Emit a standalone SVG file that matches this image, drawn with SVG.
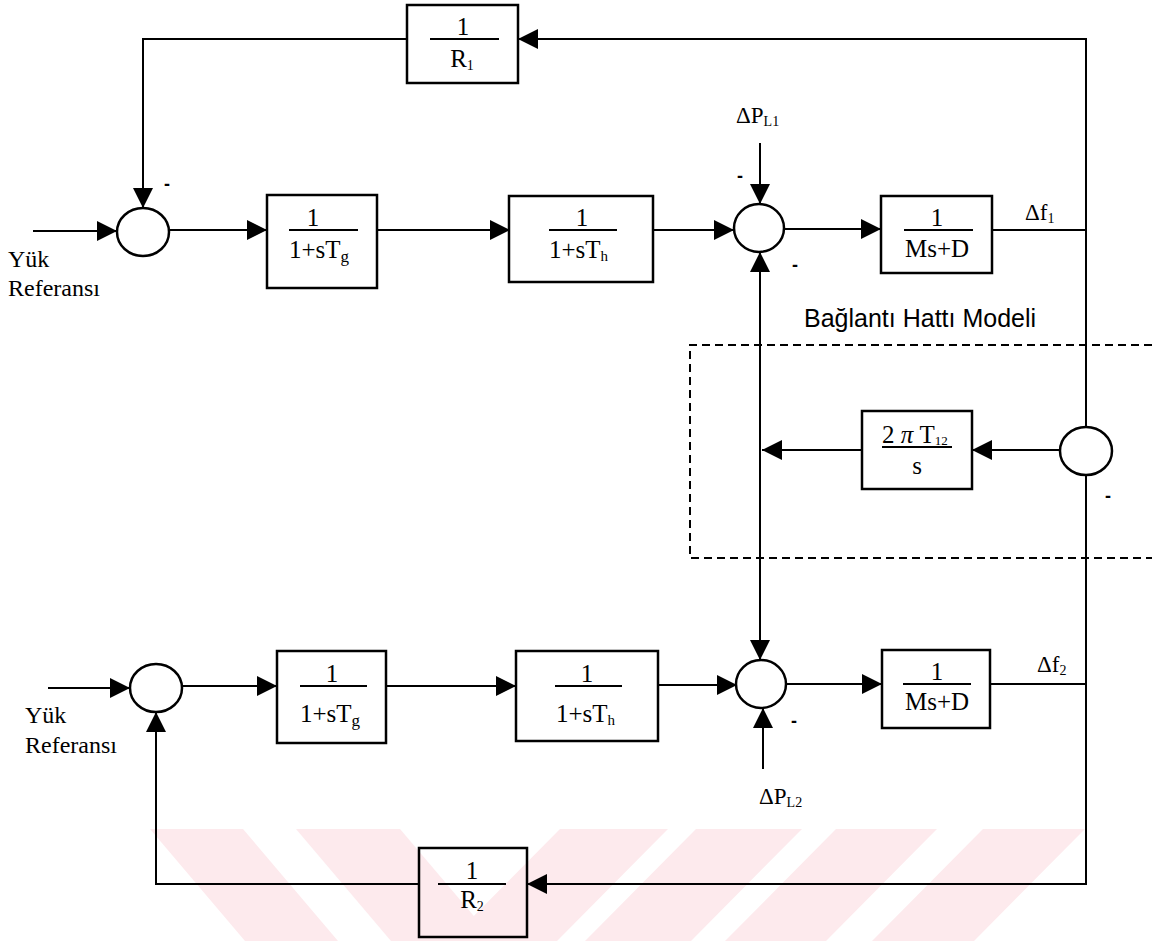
<svg xmlns="http://www.w3.org/2000/svg" width="1152" height="941" viewBox="0 0 1152 941">
<defs>
<marker id="ah" viewBox="0 0 20 20" refX="20" refY="10" markerWidth="20" markerHeight="20" markerUnits="userSpaceOnUse" orient="auto"><path d="M0,0 L20,10 L0,20 z" fill="#000"/></marker>
<style>
.ln{fill:none;stroke:#000;stroke-width:2}
.arr{fill:none;stroke:#000;stroke-width:2;marker-end:url(#ah)}
.box{fill:none;stroke:#000;stroke-width:2.5}
.sum{fill:#fff;stroke:#000;stroke-width:2.5}
.fr{stroke:#000;stroke-width:2}
.t{font-family:"Liberation Serif","Times New Roman",serif;font-size:25px;fill:#000}
.s{font-family:"Liberation Serif","Times New Roman",serif;font-size:23px;fill:#000}
.c{text-anchor:middle}
.lab{font-family:"Liberation Serif","Times New Roman",serif;font-size:24px;fill:#000}
.sgn{font-family:"Liberation Sans",Arial,sans-serif;font-size:18px;font-weight:bold;fill:#000;text-anchor:middle}
.wm{fill:#fdeaed}
</style>
</defs>
<rect width="1152" height="941" fill="#fff"/>
<g id="watermark">
<polygon class="wm" points="150,829 243,829 338,941 245,941"/>
<polygon class="wm" points="296,829 400,829 495,941 391,941"/>
<polygon class="wm" points="560,829 668,829 557,941 449,941"/>
<polygon class="wm" points="696,829 802,829 691,941 585,941"/>
<polygon class="wm" points="836,829 937,829 826,941 725,941"/>
<polygon class="wm" points="983,829 1085,829 974,941 872,941"/>
</g>
<g id="connectors">
<line class="arr" x1="1086" y1="39" x2="518" y2="39"/>
<polyline class="ln" points="407,39 143,39 143,190"/>
<line class="arr" x1="143" y1="180" x2="143" y2="208"/>
<line class="arr" x1="33" y1="231" x2="117" y2="231"/>
<line class="arr" x1="169" y1="230" x2="267" y2="230"/>
<line class="arr" x1="377" y1="230" x2="510" y2="230"/>
<line class="arr" x1="653" y1="230" x2="734" y2="230"/>
<line class="arr" x1="760" y1="143" x2="760" y2="204"/>
<line class="arr" x1="785" y1="229" x2="881" y2="229"/>
<line class="ln" x1="992" y1="230" x2="1086" y2="230"/>
<line class="ln" x1="1086" y1="38" x2="1086" y2="428"/>
<line class="ln" x1="1086" y1="475" x2="1086" y2="885"/>
<line class="ln" x1="760" y1="270" x2="760" y2="640"/>
<line class="arr" x1="760" y1="300" x2="760" y2="252"/>
<line class="arr" x1="760" y1="600" x2="760" y2="660"/>
<line class="arr" x1="1060" y1="450" x2="972" y2="450"/>
<line class="arr" x1="862" y1="450" x2="762" y2="450"/>
<line class="arr" x1="48" y1="688" x2="130" y2="688"/>
<line class="arr" x1="182" y1="686" x2="277" y2="686"/>
<line class="arr" x1="386" y1="686" x2="516" y2="686"/>
<line class="arr" x1="658" y1="685" x2="737" y2="685"/>
<line class="arr" x1="763" y1="769" x2="763" y2="708"/>
<line class="arr" x1="786" y1="684" x2="882" y2="684"/>
<line class="ln" x1="990" y1="684" x2="1086" y2="684"/>
<line class="arr" x1="1087" y1="884" x2="527" y2="884"/>
<polyline class="ln" points="419,884 156,884 156,730"/>
<line class="arr" x1="156" y1="740" x2="156" y2="712"/>
<path d="M1152,345 H690 V558 H1152" fill="none" stroke="#000" stroke-width="2" stroke-dasharray="8,5"/>
</g>
<g id="sum1"><ellipse class="sum" cx="143" cy="232" rx="26" ry="24"/><text class="sgn" x="167" y="190">-</text></g>
<g id="sum2"><ellipse class="sum" cx="759" cy="228" rx="25" ry="24"/><text class="sgn" x="740" y="182">-</text><text class="sgn" x="795" y="271">-</text></g>
<g id="sum3"><ellipse class="sum" cx="1086" cy="451" rx="26" ry="24"/><text class="sgn" x="1108" y="502">-</text></g>
<g id="sum4"><ellipse class="sum" cx="156" cy="688" rx="26" ry="24"/></g>
<g id="sum5"><ellipse class="sum" cx="761" cy="684" rx="25" ry="24"/><text class="sgn" x="794" y="727">-</text></g>
<g id="R1">
<rect class="box" x="407" y="5" width="111" height="78"/>
<line class="fr" x1="430" y1="39" x2="499" y2="39"/>
<text class="t c" x="463" y="35">1</text>
<text class="t c" x="462" y="67">R<tspan dy="3" font-size="14">1</tspan></text>
</g>
<g id="G1">
<rect class="box" x="267" y="195" width="110" height="93"/>
<line class="fr" x1="289" y1="230" x2="358" y2="230"/>
<text class="t c" x="313" y="226">1</text>
<text class="t" x="289" y="258">1+sT<tspan dy="4" font-size="17">g</tspan></text>
</g>
<g id="T1">
<rect class="box" x="509" y="196" width="144" height="86"/>
<line class="fr" x1="549" y1="230" x2="617" y2="230"/>
<text class="t c" x="582" y="226">1</text>
<text class="t" x="549" y="258">1+sT<tspan dy="3" font-size="15">h</tspan></text>
</g>
<g id="M1">
<rect class="box" x="881" y="196" width="111" height="77"/>
<line class="fr" x1="904" y1="230" x2="973" y2="230"/>
<text class="t c" x="937" y="226">1</text>
<text class="t c" x="937" y="257">Ms+D</text>
</g>
<g id="tie">
<rect class="box" x="862" y="411" width="110" height="78"/>
<line class="fr" x1="882" y1="447" x2="952" y2="447"/>
<text class="t" x="882" y="443">2 <tspan font-style="italic">π</tspan> T<tspan dy="2" font-size="13">12</tspan></text>
<text class="t c" x="917" y="474">s</text>
</g>
<g id="G2">
<rect class="box" x="277" y="651" width="109" height="92"/>
<line class="fr" x1="300" y1="686" x2="367" y2="686"/>
<text class="t c" x="332" y="682">1</text>
<text class="t" x="300" y="722">1+sT<tspan dy="4" font-size="17">g</tspan></text>
</g>
<g id="T2">
<rect class="box" x="516" y="651" width="142" height="90"/>
<line class="fr" x1="555" y1="686" x2="622" y2="686"/>
<text class="t c" x="587" y="682">1</text>
<text class="t" x="556" y="722">1+sT<tspan dy="3" font-size="15">h</tspan></text>
</g>
<g id="M2">
<rect class="box" x="882" y="650" width="108" height="78"/>
<line class="fr" x1="903" y1="684" x2="971" y2="684"/>
<text class="t c" x="937" y="680">1</text>
<text class="t c" x="937" y="710">Ms+D</text>
</g>
<g id="R2">
<rect class="box" x="419" y="848" width="108" height="89"/>
<line class="fr" x1="438" y1="884" x2="506" y2="884"/>
<text class="t c" x="472" y="879">1</text>
<text class="t c" x="472" y="908">R<tspan dy="3" font-size="14">2</tspan></text>
</g>
<g id="labels">
<text class="lab" x="8" y="267">Yük</text>
<text class="lab" x="8" y="296">Referansı</text>
<text class="lab" x="25" y="723">Yük</text>
<text class="lab" x="25" y="753">Referansı</text>
<text class="s" x="736" y="123">ΔP<tspan dy="3" font-size="14">L1</tspan></text>
<text class="s" x="759" y="804">ΔP<tspan dy="3" font-size="14">L2</tspan></text>
<text class="s" x="1025" y="220">Δf<tspan dy="3" font-size="14">1</tspan></text>
<text class="s" x="1037" y="672">Δf<tspan dy="3" font-size="14">2</tspan></text>
<text x="804" y="327" font-family="'Liberation Sans',Arial,sans-serif" font-size="25" fill="#000">Bağlantı Hattı Modeli</text>
</g>
</svg>
